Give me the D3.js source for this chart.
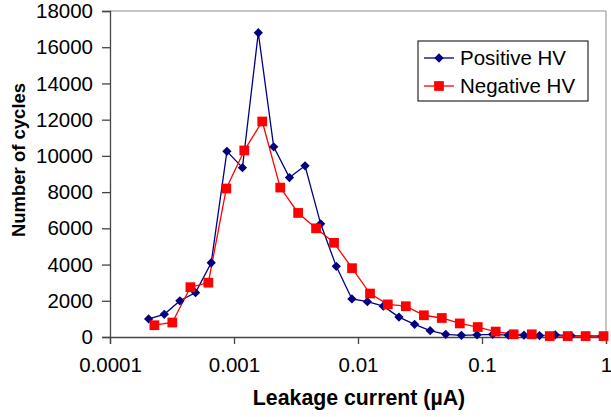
<!DOCTYPE html>
<html>
<head>
<meta charset="utf-8">
<script src="https://cdn.jsdelivr.net/npm/d3@7"></script>
<style>
  body { margin: 0; background: #fff; }
  text { font-family: "Liberation Sans", Arial, sans-serif; }
</style>
</head>
<body>
<svg class="chart" width="611" height="417"></svg>
<script>
// leakage current bins (uA) and counts
const posCurrent = [0.000205, 0.000274, 0.000366, 0.00049, 0.000655, 0.000877, 0.00117, 0.00157, 0.00209, 0.0028,
  0.00374, 0.005, 0.00668, 0.00893, 0.0119, 0.016, 0.0214, 0.0286, 0.0382, 0.051,
  0.0682, 0.0912, 0.122, 0.163, 0.218, 0.291, 0.39, 0.521, 0.697, 0.931]
const posCycles = [1000, 1250, 2000, 2450, 4100, 10250, 9350, 16800, 10500, 8800,
  9450, 6250, 3900, 2100, 1950, 1700, 1100, 700, 350, 150,
  90, 120, 150, 100, 100, 80, 120, 80, 60, 50]

const negCurrent = [0.000228, 0.000318, 0.000445, 0.000621, 0.000867, 0.00121, 0.00169, 0.00236, 0.00329, 0.00459,
  0.00641, 0.00895, 0.0125, 0.0174, 0.0243, 0.034, 0.0474, 0.0662, 0.0924, 0.129,
  0.18, 0.252, 0.352, 0.491, 0.685, 0.956]
const negCycles = [650, 800, 2750, 3000, 8200, 10300, 11900, 8250, 6850, 6000,
  5200, 3800, 2400, 1800, 1700, 1200, 1050, 750, 550, 300,
  150, 150, 50, 50, 50, 50]

const xTicks = [0.0001, 0.001, 0.01, 0.1, 1]
const xTickLabels = ['0.0001', '0.001', '0.01', '0.1', '1']
const yTicks = [0, 2000, 4000, 6000, 8000, 10000, 12000, 14000, 16000, 18000]

const svg = d3.select('.chart')
const plotL = 110, plotR = 606, plotT = 11, plotB = 337

const x = d3.scaleLog().domain([0.0001, 1]).range([plotL, plotR])
const y = d3.scaleLinear().domain([0, 18000]).range([plotB, plotT])

// plot frame (top and right)
svg.append('path')
  .attr('d', `M${plotL},${plotT}H${plotR}V${plotB}`)
  .attr('fill', 'none')
  .attr('stroke', '#8c8c8c')
  .attr('stroke-width', 1)

const xAxis = svg.append('g')
  .attr('transform', `translate(0,${plotB})`)
  .call(d3.axisBottom(x).tickValues(xTicks).tickFormat((d, i) => xTickLabels[i]).tickSize(7).tickPadding(13))
const yAxis = svg.append('g')
  .attr('transform', `translate(${plotL},0)`)
  .call(d3.axisLeft(y).tickValues(yTicks).tickFormat(d3.format('d')).tickSize(8).tickPadding(9))

svg.selectAll('.domain, .tick line').attr('stroke', '#444').attr('stroke-width', 1.3)
svg.selectAll('.tick text').attr('font-size', 20.5).attr('fill', '#000')
  .attr('font-family', '"Liberation Sans", Arial, sans-serif')

svg.append('text')
  .attr('x', 359).attr('y', 405)
  .attr('text-anchor', 'middle')
  .attr('font-size', 21.3).attr('font-weight', 'bold')
  .text('Leakage current (µA)')
svg.append('text')
  .attr('transform', 'translate(25,160) rotate(-90)')
  .attr('text-anchor', 'middle')
  .attr('font-size', 18.5).attr('font-weight', 'bold')
  .text('Number of cycles')

const line = d3.line().x(d => x(d[0])).y(d => y(d[1]))
const posData = d3.zip(posCurrent, posCycles)
const negData = d3.zip(negCurrent, negCycles)

const diamond = d3.symbol().type(d3.symbolDiamond2).size(55)
const square = d3.symbol().type(d3.symbolSquare).size(95)

// positive HV first, negative drawn over it
svg.append('path').datum(posData)
  .attr('d', line).attr('fill', 'none').attr('stroke', '#000080').attr('stroke-width', 1.3)
svg.append('path').datum(negData)
  .attr('d', line).attr('fill', 'none').attr('stroke', '#ff0000').attr('stroke-width', 1.3)

svg.append('g').selectAll('path').data(posData).join('path')
  .attr('transform', d => `translate(${x(d[0])},${y(d[1])})`)
  .attr('d', diamond).attr('fill', '#000080')
svg.append('g').selectAll('path').data(negData).join('path')
  .attr('transform', d => `translate(${x(d[0])},${y(d[1])})`)
  .attr('d', square).attr('fill', '#ff0000')

// legend
const legend = svg.append('g')
legend.append('rect')
  .attr('x', 418).attr('y', 41).attr('width', 170).attr('height', 60)
  .attr('fill', '#fff').attr('stroke', '#000').attr('stroke-width', 1)
const items = [
  { name: 'Positive HV', color: '#000080', sym: diamond, cy: 58 },
  { name: 'Negative HV', color: '#ff0000', sym: square, cy: 86 }
]
items.forEach(it => {
  legend.append('line')
    .attr('x1', 424).attr('x2', 454).attr('y1', it.cy).attr('y2', it.cy)
    .attr('stroke', it.color).attr('stroke-width', 1.3)
  legend.append('path')
    .attr('transform', `translate(439,${it.cy})`)
    .attr('d', it.sym).attr('fill', it.color)
  legend.append('text')
    .attr('x', 460).attr('y', it.cy + 7)
    .attr('font-size', 20.5)
    .text(it.name)
})
</script>
</body>
</html>
